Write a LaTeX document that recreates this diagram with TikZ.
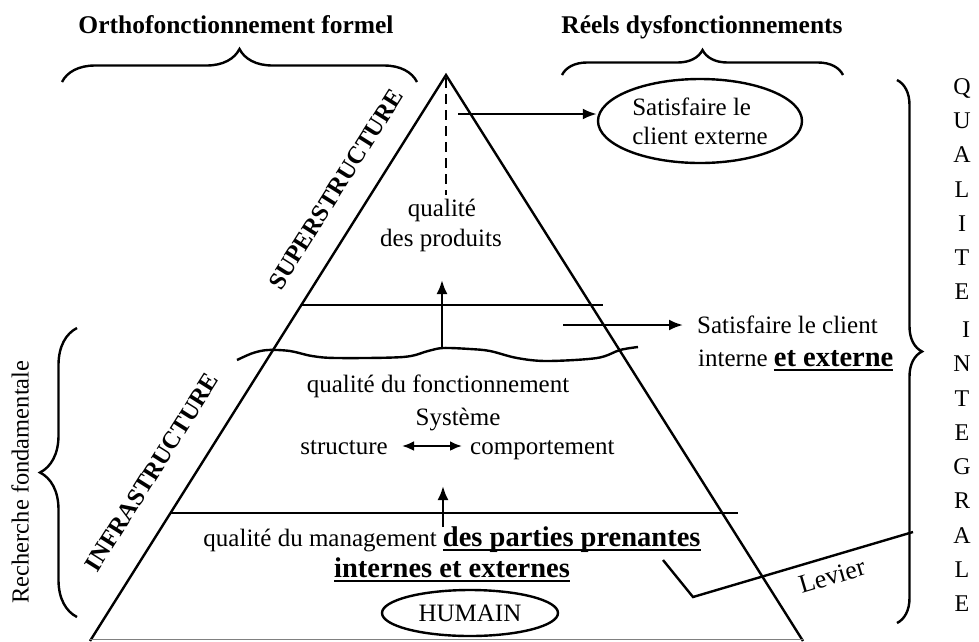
\documentclass[tikz,border=0pt]{standalone}
\usepackage{fontspec}
\setmainfont{Liberation Serif}
\usetikzlibrary{arrows.meta,decorations.pathreplacing,shapes.geometric,calc}
\newsavebox\ulbox
% larger bold text with a Word-like underline
\newcommand\ulbf[1]{\sbox\ulbox{\fontsize{28.5}{32}\selectfont\bfseries #1}\rlap{\rule[-4.5pt]{\wd\ulbox}{2pt}}\usebox\ulbox}
\begin{document}
\begin{tikzpicture}[x=1pt,y=-1pt,
  lbl/.style={font=\fontsize{25}{29}\selectfont, inner sep=0pt, text height=16pt, text depth=0pt, anchor=base},
  blbl/.style={lbl, font=\fontsize{25.5}{29}\selectfont\bfseries},
  side/.style={font=\fontsize{24.5}{29}\selectfont\bfseries, inner sep=0pt, rotate=57.8},
  letter/.style={lbl, font=\fontsize{24}{29}\selectfont, anchor=base},
  edge/.style={line width=2.4pt},
  arr/.style={line width=2.4pt, -{Latex[length=14pt,width=11pt]}},
  darr/.style={line width=2.4pt, {Latex[length=12pt,width=10pt]}-{Latex[length=12pt,width=10pt]}},
  curly/.style={line width=2.4pt, decorate, decoration={brace, amplitude=#1}},
  oval/.style={ellipse, draw, line width=2.4pt, inner sep=0pt, font=\fontsize{25}{29}\selectfont},
]
\useasboundingbox (0,0) rectangle (979,641);

% pyramid
\coordinate (apex) at (446,75);
\coordinate (bl) at (90,641);
\coordinate (br) at (803,641);
\draw[edge, line join=miter] (bl) -- (apex) -- (br);
\draw[gray, line width=1pt] (90,639.5) -- (803,639.5);

% level separators
\coordinate (s1a) at (301,305);
\coordinate (s1b) at (603,305);
\draw[edge] (s1a) -- (s1b);
\coordinate (s2a) at (170,513);
\coordinate (s2b) at (738,513);
\draw[edge] (s2a) -- (s2b);
\draw[edge] plot[smooth, tension=0.55] coordinates {(237,360) (253,353) (268,350) (290,351) (312,356) (337,358) (403,357) (428,351) (443,348) (470,349) (490,351) (517,358) (547,361) (597,358) (620,350) (638,347)};

% headings and braces
\node[blbl] (ortho) at (236,33) {Orthofonctionnement formel};
\node[blbl] (reels) at (702,33) {Réels dysfonctionnements};
\draw[curly=33] (62,82) -- (417,82);
\draw[curly=25] (562,75) -- (843,75);
\draw[curly=25] (897,80) -- (897,623);
\draw[curly=37] (77,617) -- (77,328);
\node[font=\fontsize{24.5}{29}\selectfont, inner sep=0pt, rotate=90] (rech) at (20,482) {Recherche fondamentale};

% side labels
\node[side] (super) at (336,189) {SUPERSTRUCTURE};
\node[side] (infra) at (152,472) {INFRASTRUCTURE};

% top of the pyramid
\draw[edge, dash pattern=on 10pt off 6pt] (446,78) -- (446,195);
\node[oval, minimum width=204pt, minimum height=84pt, align=left] (ext) at (700,121) {Satisfaire le\\client externe};
\coordinate (t0) at (458,114);
\draw[arr] (t0) -- (t0 -| ext.west);
\node[lbl] (q1) at (442,216) {qualité};
\node[lbl] (q2) at (441,246) {des produits};
\coordinate (w0) at (442,349);
\coordinate (w1) at (442,280);
\draw[arr] (w0) -- (w1);

% middle level
\node[lbl, anchor=base west] (cl1) at (697,333) {Satisfaire le client};
\node[lbl, anchor=base west] (cl2) at (698,366) {interne \ulbf{et externe}};
\coordinate (m0) at (563,325);
\draw[arr, shorten >=14pt] (m0) -- (m0 -| cl1.west);
\node[lbl] (fonc) at (438,392) {qualité du fonctionnement};
\node[lbl] (sys) at (458,425) {Système};
\node[lbl, anchor=base east] (struc) at (388,454) {structure};
\node[lbl, anchor=base west] (comp) at (470,454) {comportement};
\draw[darr, shorten <=14pt, shorten >=8pt] (struc.east) -- (comp.west);
\coordinate (b0) at (443,527);
\coordinate (b1) at (443,486);
\draw[arr] (b0) -- (b1);

% base level
\node[lbl] (mgt) at (452,546) {qualité du management \ulbf{des parties prenantes}};
\node[lbl] (ie) at (452,577) {\ulbf{internes et externes}};
\node[oval, minimum width=176pt, minimum height=46pt] (hum) at (470,613) {HUMAIN};

% lever
\coordinate (l0) at (663,560);
\coordinate (l1) at (693,597);
\coordinate (l2) at (913,532);
\draw[edge] (l0) -- (l1) -- (l2);
\node[font=\fontsize{26}{29}\selectfont, inner sep=0pt, rotate=16.5] (lev) at (832,576) {Levier};

% vertical word column
\foreach \c/\y [count=\i] in {Q/86,U/120,A/154,L/189,I/223,T/257,E/291} {
  \node[letter] (qa\i) at (962,\y+8) {\c};
}
\foreach \c/\y/\x [count=\i] in {I/329/966,N/363/962,T/398/962,E/432/962,G/466/962,R/500/962,A/535/962,L/569/962,E/603/962} {
  \node[letter] (ig\i) at (\x,\y+8) {\c};
}
\end{tikzpicture}
\end{document}
